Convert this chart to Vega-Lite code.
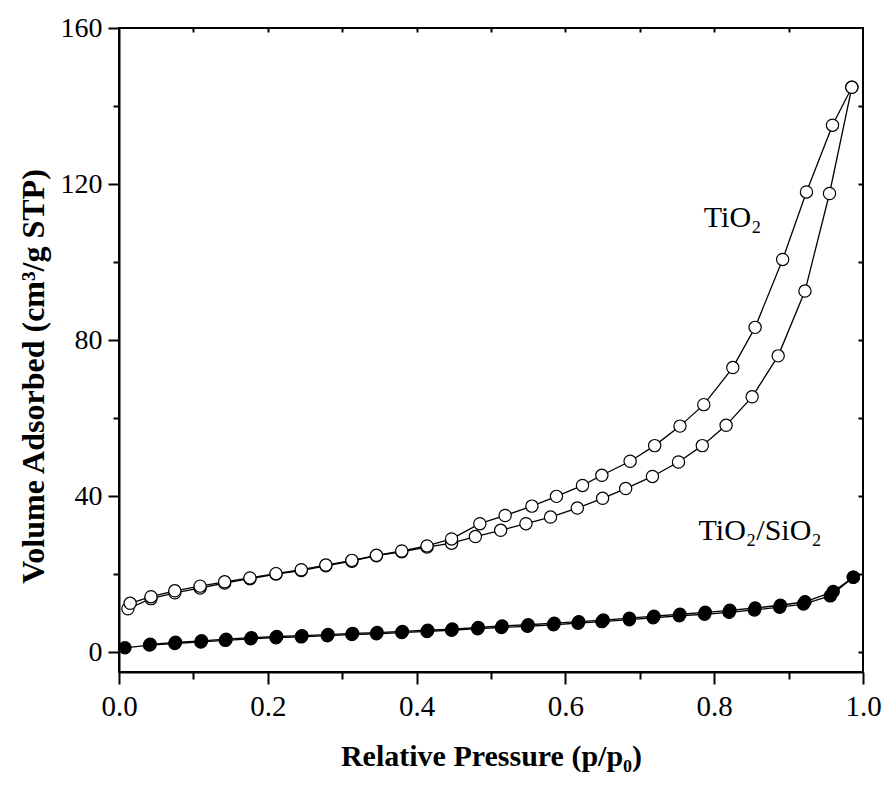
{
  "$schema": "https://vega.github.io/schema/vega-lite/v6.json",
  "width": 744,
  "height": 644,
  "autosize": {"type": "none"},
  "padding": {"left": 119, "top": 28, "right": 26, "bottom": 119},
  "background": "white",
  "config": {
    "view": {"stroke": "black", "strokeWidth": 2},
    "font": "Liberation Serif",
    "axis": {
      "grid": false,
      "domainColor": "black",
      "domainWidth": 2,
      "tickColor": "black",
      "tickWidth": 2,
      "labelFont": "Liberation Serif",
      "labelFontSize": 28,
      "labelColor": "black",
      "labelFlush": false,
      "titleFont": "Liberation Serif",
      "titleColor": "black",
      "titleFontWeight": "bold"
    }
  },
  "datasets": {
    "iso": [
      {"s": "TiO2", "b": "ads", "p": 0.012, "v": 11.2},
      {"s": "TiO2", "b": "ads", "p": 0.043, "v": 13.8},
      {"s": "TiO2", "b": "ads", "p": 0.075, "v": 15.3},
      {"s": "TiO2", "b": "ads", "p": 0.109, "v": 16.5},
      {"s": "TiO2", "b": "ads", "p": 0.142, "v": 17.8},
      {"s": "TiO2", "b": "ads", "p": 0.176, "v": 18.9},
      {"s": "TiO2", "b": "ads", "p": 0.211, "v": 20.1},
      {"s": "TiO2", "b": "ads", "p": 0.245, "v": 21.0},
      {"s": "TiO2", "b": "ads", "p": 0.278, "v": 22.2},
      {"s": "TiO2", "b": "ads", "p": 0.313, "v": 23.4},
      {"s": "TiO2", "b": "ads", "p": 0.346, "v": 24.8},
      {"s": "TiO2", "b": "ads", "p": 0.380, "v": 25.8},
      {"s": "TiO2", "b": "ads", "p": 0.414, "v": 27.0},
      {"s": "TiO2", "b": "ads", "p": 0.447, "v": 28.0},
      {"s": "TiO2", "b": "ads", "p": 0.479, "v": 29.7},
      {"s": "TiO2", "b": "ads", "p": 0.513, "v": 31.3},
      {"s": "TiO2", "b": "ads", "p": 0.547, "v": 33.0},
      {"s": "TiO2", "b": "ads", "p": 0.580, "v": 34.7},
      {"s": "TiO2", "b": "ads", "p": 0.616, "v": 37.0},
      {"s": "TiO2", "b": "ads", "p": 0.650, "v": 39.5},
      {"s": "TiO2", "b": "ads", "p": 0.681, "v": 42.0},
      {"s": "TiO2", "b": "ads", "p": 0.717, "v": 45.1},
      {"s": "TiO2", "b": "ads", "p": 0.752, "v": 48.8},
      {"s": "TiO2", "b": "ads", "p": 0.784, "v": 53.0},
      {"s": "TiO2", "b": "ads", "p": 0.816, "v": 58.2},
      {"s": "TiO2", "b": "ads", "p": 0.851, "v": 65.5},
      {"s": "TiO2", "b": "ads", "p": 0.886, "v": 76.0},
      {"s": "TiO2", "b": "ads", "p": 0.922, "v": 92.6},
      {"s": "TiO2", "b": "ads", "p": 0.955, "v": 117.6},
      {"s": "TiO2", "b": "ads", "p": 0.985, "v": 144.8},
      {"s": "TiO2", "b": "des", "p": 0.985, "v": 144.8},
      {"s": "TiO2", "b": "des", "p": 0.959, "v": 135.1},
      {"s": "TiO2", "b": "des", "p": 0.924, "v": 118.0},
      {"s": "TiO2", "b": "des", "p": 0.892, "v": 100.7},
      {"s": "TiO2", "b": "des", "p": 0.855, "v": 83.3},
      {"s": "TiO2", "b": "des", "p": 0.825, "v": 73.0},
      {"s": "TiO2", "b": "des", "p": 0.786, "v": 63.5},
      {"s": "TiO2", "b": "des", "p": 0.754, "v": 58.0},
      {"s": "TiO2", "b": "des", "p": 0.720, "v": 53.0},
      {"s": "TiO2", "b": "des", "p": 0.687, "v": 49.0},
      {"s": "TiO2", "b": "des", "p": 0.649, "v": 45.4},
      {"s": "TiO2", "b": "des", "p": 0.623, "v": 42.8},
      {"s": "TiO2", "b": "des", "p": 0.588, "v": 40.0},
      {"s": "TiO2", "b": "des", "p": 0.555, "v": 37.5},
      {"s": "TiO2", "b": "des", "p": 0.519, "v": 35.1},
      {"s": "TiO2", "b": "des", "p": 0.485, "v": 33.0},
      {"s": "TiO2", "b": "des", "p": 0.447, "v": 29.1},
      {"s": "TiO2", "b": "des", "p": 0.414, "v": 27.3},
      {"s": "TiO2", "b": "des", "p": 0.380, "v": 26.0},
      {"s": "TiO2", "b": "des", "p": 0.346, "v": 24.9},
      {"s": "TiO2", "b": "des", "p": 0.313, "v": 23.6},
      {"s": "TiO2", "b": "des", "p": 0.278, "v": 22.4},
      {"s": "TiO2", "b": "des", "p": 0.245, "v": 21.2},
      {"s": "TiO2", "b": "des", "p": 0.211, "v": 20.2},
      {"s": "TiO2", "b": "des", "p": 0.176, "v": 19.1},
      {"s": "TiO2", "b": "des", "p": 0.142, "v": 18.1},
      {"s": "TiO2", "b": "des", "p": 0.109, "v": 17.0},
      {"s": "TiO2", "b": "des", "p": 0.075, "v": 15.8},
      {"s": "TiO2", "b": "des", "p": 0.043, "v": 14.3},
      {"s": "TiO2", "b": "des", "p": 0.015, "v": 12.6},
      {"s": "TiO2/SiO2", "b": "ads", "p": 0.008, "v": 1.2},
      {"s": "TiO2/SiO2", "b": "ads", "p": 0.041, "v": 1.9},
      {"s": "TiO2/SiO2", "b": "ads", "p": 0.075, "v": 2.3},
      {"s": "TiO2/SiO2", "b": "ads", "p": 0.110, "v": 2.7},
      {"s": "TiO2/SiO2", "b": "ads", "p": 0.143, "v": 3.1},
      {"s": "TiO2/SiO2", "b": "ads", "p": 0.177, "v": 3.5},
      {"s": "TiO2/SiO2", "b": "ads", "p": 0.211, "v": 3.8},
      {"s": "TiO2/SiO2", "b": "ads", "p": 0.245, "v": 4.0},
      {"s": "TiO2/SiO2", "b": "ads", "p": 0.280, "v": 4.3},
      {"s": "TiO2/SiO2", "b": "ads", "p": 0.313, "v": 4.6},
      {"s": "TiO2/SiO2", "b": "ads", "p": 0.346, "v": 4.8},
      {"s": "TiO2/SiO2", "b": "ads", "p": 0.380, "v": 5.1},
      {"s": "TiO2/SiO2", "b": "ads", "p": 0.414, "v": 5.4},
      {"s": "TiO2/SiO2", "b": "ads", "p": 0.447, "v": 5.7},
      {"s": "TiO2/SiO2", "b": "ads", "p": 0.482, "v": 6.1},
      {"s": "TiO2/SiO2", "b": "ads", "p": 0.514, "v": 6.4},
      {"s": "TiO2/SiO2", "b": "ads", "p": 0.549, "v": 6.7},
      {"s": "TiO2/SiO2", "b": "ads", "p": 0.584, "v": 7.1},
      {"s": "TiO2/SiO2", "b": "ads", "p": 0.617, "v": 7.5},
      {"s": "TiO2/SiO2", "b": "ads", "p": 0.649, "v": 7.9},
      {"s": "TiO2/SiO2", "b": "ads", "p": 0.686, "v": 8.4},
      {"s": "TiO2/SiO2", "b": "ads", "p": 0.718, "v": 8.9},
      {"s": "TiO2/SiO2", "b": "ads", "p": 0.753, "v": 9.4},
      {"s": "TiO2/SiO2", "b": "ads", "p": 0.787, "v": 9.8},
      {"s": "TiO2/SiO2", "b": "ads", "p": 0.820, "v": 10.3},
      {"s": "TiO2/SiO2", "b": "ads", "p": 0.854, "v": 10.9},
      {"s": "TiO2/SiO2", "b": "ads", "p": 0.888, "v": 11.6},
      {"s": "TiO2/SiO2", "b": "ads", "p": 0.920, "v": 12.4},
      {"s": "TiO2/SiO2", "b": "ads", "p": 0.956, "v": 14.5},
      {"s": "TiO2/SiO2", "b": "ads", "p": 0.987, "v": 19.3},
      {"s": "TiO2/SiO2", "b": "des", "p": 0.987, "v": 19.3},
      {"s": "TiO2/SiO2", "b": "des", "p": 0.960, "v": 15.6},
      {"s": "TiO2/SiO2", "b": "des", "p": 0.922, "v": 13.0},
      {"s": "TiO2/SiO2", "b": "des", "p": 0.889, "v": 12.1},
      {"s": "TiO2/SiO2", "b": "des", "p": 0.855, "v": 11.4},
      {"s": "TiO2/SiO2", "b": "des", "p": 0.821, "v": 10.8},
      {"s": "TiO2/SiO2", "b": "des", "p": 0.788, "v": 10.3},
      {"s": "TiO2/SiO2", "b": "des", "p": 0.754, "v": 9.8},
      {"s": "TiO2/SiO2", "b": "des", "p": 0.719, "v": 9.3},
      {"s": "TiO2/SiO2", "b": "des", "p": 0.686, "v": 8.8},
      {"s": "TiO2/SiO2", "b": "des", "p": 0.651, "v": 8.3},
      {"s": "TiO2/SiO2", "b": "des", "p": 0.618, "v": 7.9},
      {"s": "TiO2/SiO2", "b": "des", "p": 0.585, "v": 7.5},
      {"s": "TiO2/SiO2", "b": "des", "p": 0.550, "v": 7.1},
      {"s": "TiO2/SiO2", "b": "des", "p": 0.515, "v": 6.8},
      {"s": "TiO2/SiO2", "b": "des", "p": 0.483, "v": 6.4},
      {"s": "TiO2/SiO2", "b": "des", "p": 0.448, "v": 6.0},
      {"s": "TiO2/SiO2", "b": "des", "p": 0.415, "v": 5.7},
      {"s": "TiO2/SiO2", "b": "des", "p": 0.381, "v": 5.4},
      {"s": "TiO2/SiO2", "b": "des", "p": 0.347, "v": 5.1},
      {"s": "TiO2/SiO2", "b": "des", "p": 0.314, "v": 4.9},
      {"s": "TiO2/SiO2", "b": "des", "p": 0.281, "v": 4.6},
      {"s": "TiO2/SiO2", "b": "des", "p": 0.246, "v": 4.3},
      {"s": "TiO2/SiO2", "b": "des", "p": 0.212, "v": 4.1},
      {"s": "TiO2/SiO2", "b": "des", "p": 0.178, "v": 3.8},
      {"s": "TiO2/SiO2", "b": "des", "p": 0.144, "v": 3.4},
      {"s": "TiO2/SiO2", "b": "des", "p": 0.111, "v": 3.0},
      {"s": "TiO2/SiO2", "b": "des", "p": 0.076, "v": 2.6},
      {"s": "TiO2/SiO2", "b": "des", "p": 0.042, "v": 2.1}
    ],
    "labels": [
      {"p": 0.786, "v": 109, "t": "TiO₂"},
      {"p": 0.779, "v": 28.7, "t": "TiO₂/SiO₂"}
    ]
  },
  "layer": [
    {
      "data": {"name": "iso"},
      "mark": {"type": "line", "color": "black", "strokeWidth": 1.3},
      "encoding": {
        "x": {
          "field": "p", "type": "quantitative",
          "scale": {"domain": [0, 1], "nice": false, "zero": false},
          "axis": {
            "orient": "bottom",
            "values": [0, 0.2, 0.4, 0.6, 0.8, 1.0],
            "format": ".1f",
            "tickSize": 12,
            "labelPadding": 8,
            "labelFontSize": 29,
            "title": "Relative Pressure (p/p₀)",
            "titleFontSize": 30,
            "titleX": 372,
            "titleY": 93,
            "titleBaseline": "alphabetic",
            "titleAnchor": "middle"
          }
        },
        "y": {
          "field": "v", "type": "quantitative",
          "scale": {"domain": [-5, 160], "nice": false, "zero": false},
          "axis": {
            "orient": "left",
            "values": [0, 40, 80, 120, 160],
            "tickSize": 11,
            "labelPadding": 6,
            "labelFontSize": 28,
            "title": "Volume Adsorbed (cm³/g STP)",
            "titleFontSize": 32,
            "titleX": -76,
            "titleY": 348,
            "titleAngle": -90,
            "titleBaseline": "alphabetic",
            "titleAlign": "center"
          }
        },
        "detail": [{"field": "s"}, {"field": "b"}]
      }
    },
    {
      "data": {"name": "iso"},
      "mark": {"type": "point", "shape": "circle", "size": 150, "stroke": "black", "strokeWidth": 1.2, "opacity": 1, "filled": false},
      "encoding": {
        "x": {"field": "p", "type": "quantitative", "axis": null},
        "y": {"field": "v", "type": "quantitative", "axis": null},
        "fill": {
          "field": "s", "type": "nominal",
          "scale": {"domain": ["TiO2", "TiO2/SiO2"], "range": ["white", "black"]},
          "legend": null
        }
      }
    },
    {
      "data": {"name": "iso"},
      "mark": {"type": "point", "opacity": 0},
      "encoding": {
        "x": {
          "field": "p", "type": "quantitative",
          "axis": {"orient": "bottom", "values": [0.1, 0.3, 0.5, 0.7, 0.9], "labels": false, "domain": false, "tickSize": 7, "title": null}
        },
        "y": {
          "field": "v", "type": "quantitative",
          "axis": {"orient": "left", "values": [20, 60, 100, 140], "labels": false, "domain": false, "tickSize": 6, "title": null}
        }
      }
    },
    {
      "data": {"name": "iso"},
      "mark": {"type": "point", "opacity": 0},
      "encoding": {
        "x": {
          "field": "p", "type": "quantitative",
          "axis": {"orient": "top", "values": [0.1, 0.2, 0.3, 0.4, 0.5, 0.6, 0.7, 0.8, 0.9], "labels": false, "domain": false, "tickSize": -4, "title": null}
        },
        "y": {
          "field": "v", "type": "quantitative",
          "axis": {"orient": "right", "values": [0, 20, 40, 60, 80, 100, 120, 140], "labels": false, "domain": false, "tickSize": -5, "title": null}
        }
      }
    },
    {
      "data": {"name": "labels"},
      "mark": {"type": "text", "align": "left", "baseline": "alphabetic", "font": "Liberation Serif", "fontSize": 30, "color": "black"},
      "encoding": {
        "x": {"field": "p", "type": "quantitative", "axis": null},
        "y": {"field": "v", "type": "quantitative", "axis": null},
        "text": {"field": "t"}
      }
    }
  ],
  "resolve": {"axis": {"x": "independent", "y": "independent"}}
}
